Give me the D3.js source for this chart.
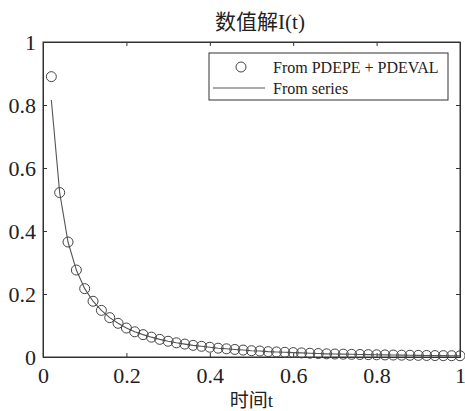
<!DOCTYPE html>
<html>
<head>
<meta charset="utf-8">
<script src="https://cdn.jsdelivr.net/npm/d3@7/dist/d3.min.js"></script>
<style>
  html, body { margin: 0; padding: 0; background: #fff; }
  svg { display: block; }
  text { font-family: "Liberation Serif", "Noto Sans CJK SC", serif; fill: #222; }
</style>
</head>
<body>
<script>
// Time samples
const times = [0.02,0.04,0.06,0.08,0.10,0.12,0.14,0.16,0.18,0.20,
               0.22,0.24,0.26,0.28,0.30,0.32,0.34,0.36,0.38,0.40,
               0.42,0.44,0.46,0.48,0.50,0.52,0.54,0.56,0.58,0.60,
               0.62,0.64,0.66,0.68,0.70,0.72,0.74,0.76,0.78,0.80,
               0.82,0.84,0.86,0.88,0.90,0.92,0.94,0.96,0.98,1.00];

// Numerical solution (PDEPE + PDEVAL)
const pdeValues = [0.890,0.522,0.365,0.276,0.217,0.177,0.148,0.125,0.107,0.092,
                   0.080,0.071,0.063,0.056,0.050,0.045,0.041,0.037,0.034,0.031,
                   0.028,0.026,0.024,0.022,0.020,0.019,0.017,0.016,0.015,0.014,
                   0.013,0.012,0.011,0.010,0.0095,0.009,0.0085,0.008,0.0075,0.007,
                   0.0066,0.0062,0.0058,0.0055,0.0052,0.0049,0.0046,0.0043,0.0041,0.0039];

// Series solution
const seriesValues = [0.816,0.522,0.365,0.276,0.217,0.177,0.148,0.125,0.107,0.092,
                      0.080,0.071,0.063,0.056,0.050,0.045,0.041,0.037,0.034,0.031,
                      0.028,0.026,0.024,0.022,0.020,0.019,0.017,0.016,0.015,0.014,
                      0.013,0.012,0.011,0.010,0.0095,0.009,0.0085,0.008,0.0075,0.007,
                      0.0066,0.0062,0.0058,0.0055,0.0052,0.0049,0.0046,0.0043,0.0041,0.0039];

const xTicks = [0, 0.2, 0.4, 0.6, 0.8, 1];
const yTicks = [0, 0.2, 0.4, 0.6, 0.8, 1];
const legendLabels = ["From PDEPE + PDEVAL", "From series"];
const titleText = "数值解I(t)";
const xLabelText = "时间t";

const W = 465, H = 411;
const m = { left: 43, right: 5, top: 42, bottom: 54 };
const pw = W - m.left - m.right, ph = H - m.top - m.bottom;

const svg = d3.select("body").append("svg").attr("width", W).attr("height", H);
const g = svg.append("g").attr("transform", `translate(${m.left},${m.top})`);

const x = d3.scaleLinear().domain([0, 1]).range([0, pw]);
const y = d3.scaleLinear().domain([0, 1]).range([ph, 0]);

const axisColor = "#333";
const fmt = d => d3.format("")(+d.toFixed(1));

// Axes with inward ticks on all four sides
const gx = g.append("g").attr("transform", `translate(0,${ph})`)
  .call(d3.axisBottom(x).tickValues(xTicks).tickSizeInner(-4).tickSizeOuter(0).tickPadding(10).tickFormat(fmt));
const gy = g.append("g")
  .call(d3.axisLeft(y).tickValues(yTicks).tickSizeInner(-4).tickSizeOuter(0).tickPadding(7).tickFormat(fmt));
const gxt = g.append("g")
  .call(d3.axisTop(x).tickValues(xTicks).tickSizeInner(-4).tickSizeOuter(0).tickFormat(""));
const gyr = g.append("g").attr("transform", `translate(${pw},0)`)
  .call(d3.axisRight(y).tickValues(yTicks).tickSizeInner(-4).tickSizeOuter(0).tickFormat(""));

[gx, gy, gxt, gyr].forEach(a => {
  a.selectAll("path, line").attr("stroke", axisColor).attr("stroke-width", 1);
  a.selectAll("text").style("font-size", "22px").attr("fill", "#222")
    .style("font-family", "'Liberation Serif', serif");
});
gx.selectAll("text").attr("dy", "0.71em");

// Frame
g.append("rect").attr("width", pw).attr("height", ph)
  .attr("fill", "none").attr("stroke", axisColor).attr("stroke-width", 1);

// Series curve
const line = d3.line().x((d, i) => x(times[i])).y(d => y(d));
g.append("path").datum(seriesValues)
  .attr("d", line).attr("fill", "none").attr("stroke", "#555").attr("stroke-width", 1.1);

// Numerical points
g.selectAll("circle.pt").data(pdeValues).join("circle")
  .attr("class", "pt")
  .attr("cx", (d, i) => x(times[i])).attr("cy", d => y(d)).attr("r", 5)
  .attr("fill", "none").attr("stroke", "#444").attr("stroke-width", 1);

// Title and axis label
svg.append("text").attr("x", 260).attr("y", 29).attr("text-anchor", "middle")
  .style("font-size", "21px").text(titleText);
svg.append("text").attr("x", m.left + pw / 2).attr("y", 407).attr("text-anchor", "middle")
  .style("font-size", "19px").text(xLabelText);

// Legend
const lg = svg.append("g");
lg.append("rect").attr("x", 209).attr("y", 53).attr("width", 239).attr("height", 47)
  .attr("fill", "#fff").attr("stroke", "#333").attr("stroke-width", 1);
lg.append("circle").attr("cx", 241).attr("cy", 67).attr("r", 5)
  .attr("fill", "none").attr("stroke", "#444").attr("stroke-width", 1);
lg.append("line").attr("x1", 213).attr("x2", 265).attr("y1", 88).attr("y2", 88)
  .attr("stroke", "#555").attr("stroke-width", 1.1);
lg.selectAll("text.lab").data(legendLabels).join("text").attr("class", "lab")
  .attr("x", 273).attr("y", (d, i) => 73 + i * 21)
  .style("font-size", "16px").text(d => d);
</script>
</body>
</html>
